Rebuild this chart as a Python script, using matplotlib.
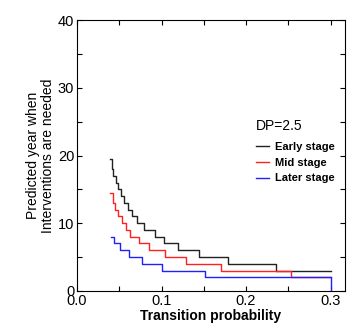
import matplotlib
matplotlib.use("Agg")
import matplotlib.pyplot as plt
from matplotlib.ticker import MultipleLocator, FormatStrFormatter

plt.rcParams['font.family'] = ['Liberation Sans', 'DejaVu Sans']

# staircase data: p where each level starts, level value (years)
early_p = [0.039, 0.041, 0.043, 0.046, 0.049, 0.052, 0.056, 0.060, 0.065,
           0.071, 0.079, 0.092, 0.103, 0.119, 0.144, 0.179, 0.235, 0.300]
early_y = [19.5, 18, 17, 16, 15, 14, 13, 12, 11, 10, 9, 8, 7, 6, 5, 4, 3, 3]

mid_p = [0.039, 0.042, 0.045, 0.049, 0.053, 0.058, 0.0626, 0.073, 0.085,
         0.104, 0.129, 0.170, 0.253, 0.300]
mid_y = [14.5, 13, 12, 11, 10, 9, 8, 7, 6, 5, 4, 3, 2, 2]

late_p = [0.040, 0.044, 0.051, 0.061, 0.077, 0.101, 0.151, 0.300, 0.300]
late_y = [8, 7, 6, 5, 4, 3, 2, 2, 0]

labels = ["Early stage", "Mid stage", "Later stage"]
colors = ["#222222", "#ff2020", "#2020ff"]

fig = plt.figure(figsize=(3.47, 3.25), dpi=100)
ax = fig.add_axes([0.222, 0.105, 0.772, 0.833])

for p, y, lab, c in zip([early_p, mid_p, late_p], [early_y, mid_y, late_y], labels, colors):
    ax.step(p, y, where="post", color=c, lw=1.0, label=lab)

ax.set_xlim(0, 0.317)
ax.set_ylim(0, 40)
ax.xaxis.set_major_locator(MultipleLocator(0.1))
ax.xaxis.set_minor_locator(MultipleLocator(0.05))
ax.yaxis.set_major_locator(MultipleLocator(10))
ax.yaxis.set_minor_locator(MultipleLocator(5))
ax.xaxis.set_major_formatter(FormatStrFormatter("%.1f"))
ax.tick_params(which="both", direction="in", top=True, right=True,
               length=3.5, width=0.8, labelsize=10.5, pad=2)
for s in ax.spines.values():
    s.set_linewidth(0.8)

ax.set_xlabel("Transition probability", fontsize=10, fontweight="bold", labelpad=1)
ax.set_ylabel("Predicted year when\nInterventions are needed", fontsize=10,
              linespacing=1.1, labelpad=2)

leg = ax.legend(title="DP=2.5", loc="upper left", bbox_to_anchor=(0.737, 0.635),
                bbox_transform=fig.transFigure, frameon=False,
                title_fontsize=10, handlelength=1.2, handletextpad=0.55,
                labelspacing=0.5, borderpad=0, borderaxespad=0,
                alignment="left", prop={"weight": "bold", "size": 8})
leg._legend_box.sep = 7

fig.savefig("out.png", dpi=100)
